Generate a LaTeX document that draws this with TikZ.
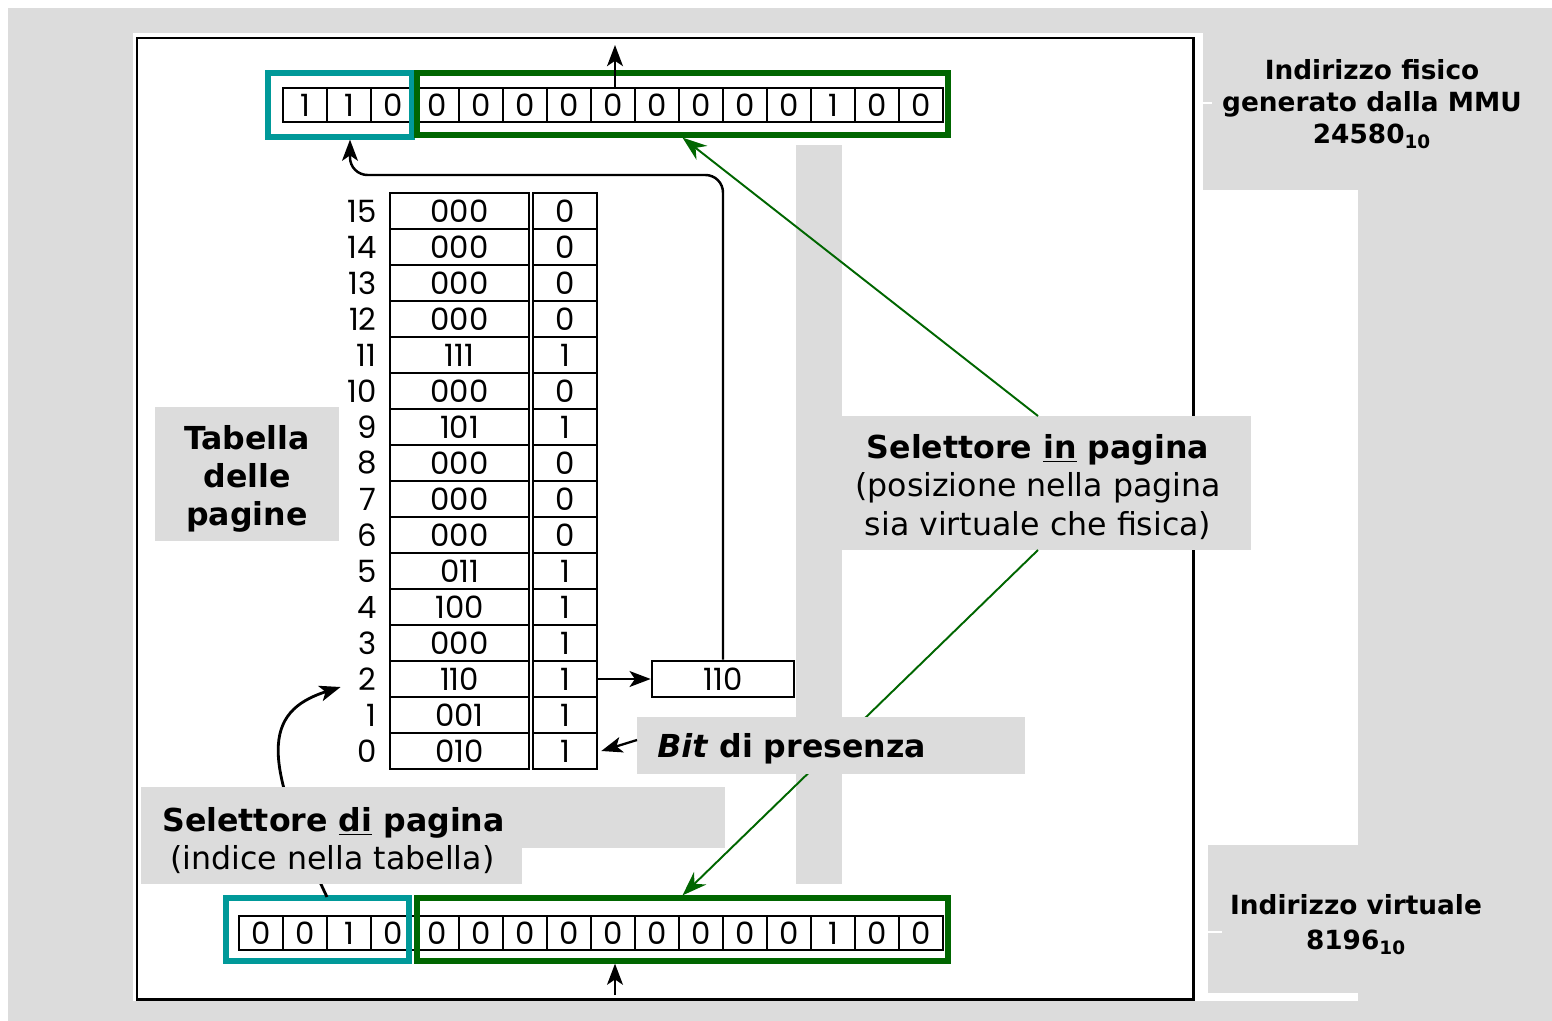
\documentclass[tikz,border=0pt]{standalone}
\usepackage{fontspec}
\setmainfont{DejaVu Sans}
\newfontfamily\cellfont[Numbers=Monospaced]{Poppins}
\usetikzlibrary{arrows.meta,calc}

\definecolor{slidegray}{RGB}{220,220,220}
\definecolor{selcyan}{RGB}{0,153,153}
\definecolor{seldkgreen}{RGB}{0,102,0}

\tikzset{
  bitcell/.style={draw,line width=1.4pt,minimum width=0.88cm,minimum height=0.68cm,inner sep=0pt,font=\cellfont\fontsize{17.5}{17.5}\selectfont},
  ptcell/.style={draw,line width=1.5pt,minimum height=0.72cm,inner sep=0pt,font=\cellfont\fontsize{17.5}{17.5}\selectfont},
  idxlbl/.style={anchor=east,inner sep=0pt,font=\cellfont\fontsize{17.5}{17.5}\selectfont},
  graybox/.style={fill=slidegray,inner sep=0pt},
  selbox/.style={draw,line width=3pt,inner sep=0pt},
  garrow/.style={-{Stealth[length=14pt,width=10pt]},seldkgreen,line width=1.1pt},
  lblfont/.style={font=\fontsize{18}{21.8}\selectfont},
  addrfont/.style={font=\bfseries\fontsize{15}{18.2}\selectfont}
}

\begin{document}
\begin{tikzpicture}[x=0.02cm,y=-0.02cm,>={Stealth[length=12pt,width=9pt,inset=3pt]}]
    \useasboundingbox (0,0) rectangle (1552,1021);
    % slide background
    \fill[white] (0,0) rectangle (1552,1021);
    \fill[slidegray] (8,8) rectangle (1552,1021);
    \fill[white] (133,33) rectangle (1203,1001);
    \fill[white] (1203,190) rectangle (1358,1001);
    \fill[slidegray] (1208,845) rectangle (1358,993);
    \draw[line width=1.7pt] (137,38) rectangle (1193,999);
    \fill[slidegray] (796,145) rectangle (842,884);
    \draw[white,line width=1.5pt] (1195,103) -- (1212,103);
    \draw[white,line width=1.5pt] (1195,932) -- (1222,932);

    % indirizzo fisico / virtuale
    \foreach \b [count=\i from 0] in {1,1,0,0,0,0,0,0,0,0,0,0,1,0,0}
    {
        \node[bitcell] (p\i) at (305+44*\i,105) {\b};
    }
    \foreach \b [count=\i from 0] in {0,0,1,0,0,0,0,0,0,0,0,0,0,1,0,0}
    {
        \node[bitcell] (v\i) at (261+44*\i,933) {\b};
    }
    \node[selbox,draw=selcyan,minimum width=2.88cm,minimum height=1.28cm] (pcyan) at (340,105) {};
    \node[selbox,draw=seldkgreen,minimum width=10.62cm,minimum height=1.24cm] (pgreen) at (682.5,104) {};
    \node[selbox,draw=selcyan,minimum width=3.66cm,minimum height=1.26cm] (vcyan) at (317.5,929.5) {};
    \node[selbox,draw=seldkgreen,minimum width=10.62cm,minimum height=1.26cm] (vgreen) at (682.5,929.5) {};

    % tabella delle pagine
    \foreach \n/\f/\p [count=\k from 0] in {15/000/0,14/000/0,13/000/0,12/000/0,11/111/1,10/000/0,9/101/1,8/000/0,7/000/0,6/000/0,5/011/1,4/100/1,3/000/1,2/110/1,1/001/1,0/010/1}
    {
        \node[ptcell,minimum width=2.78cm] (f\n) at (459.5,211+36*\k) {\f};
        \node[ptcell,minimum width=1.28cm] (b\n) at (565,211+36*\k) {\p};
        \node[idxlbl] (i\n) at (377,211+36*\k) {\n};
    }
    \node[ptcell,minimum width=2.84cm] (frame) at (723,679) {110};

    \draw[->,line width=1.4pt] (b2.east) -- (frame.west);
    \coordinate (bend) at (350,175);
    \draw[->,line width=1.4pt,rounded corners=10] (frame.north) |- (bend) -- (bend |- pcyan.south);
    \coordinate (pout) at (615,45);
    \draw[->,line width=1.4pt] (pout |- p7.north) -- (pout);
    \coordinate (vin) at (615,995);
    \draw[->,line width=1.4pt] (vin) -- (vin |- vgreen.south);
    \coordinate (psel) at (327,897);
    \draw[->,line width=1.6pt] (psel) .. controls (262,760) and (262,712) .. ($(i2.west)+(-18,8)$);

    % etichette
    \fill[slidegray] (155,407) rectangle (339,541);
    \node[lblfont,align=center] (tablbl) at (247,479) {\textbf{Tabella}\\\textbf{delle}\\\textbf{pagine}};
    \fill[slidegray] (842,416) rectangle (1251,550);
    \coordinate (intop) at (1038,416);
    \coordinate (inbot) at (1038,550);
    \node[lblfont,align=center] (inlbl) at (1038,487) {\textbf{Selettore \underline{in} pagina}\\(posizione nella pagina\\sia virtuale che fisica)};
    \draw[garrow] (intop) -- (pgreen.south);
    \draw[garrow] (inbot) -- (vgreen.north);
    \fill[slidegray] (637,717) rectangle (1025,774);
    \coordinate (bitin) at (637,740);
    \node[lblfont,anchor=west,inner sep=0pt] (bitlbl) at (657,749) {\textbf{\textit{Bit} di presenza}};
    \draw[->,line width=1.3pt] (bitin) -- ($(b0.east)+(3,0)$);
    \fill[slidegray] (141,787) rectangle (725,848);
    \fill[slidegray] (141,848) rectangle (522,884);
    \node[lblfont,anchor=base west,inner sep=0pt] (dil1) at (162,831) {\textbf{Selettore \underline{di} pagina}};
    \node[lblfont,anchor=base west,inner sep=0pt] (dil2) at (170,869) {(indice nella tabella)};
    \node[addrfont,align=center] (fislbl) at (1372,104) {Indirizzo fisico\\generato dalla MMU\\24580\textsubscript{10}};
    \node[addrfont,align=center,font=\bfseries\fontsize{15}{20}\selectfont] (virlbl) at (1356,925) {Indirizzo virtuale\\8196\textsubscript{10}};
\end{tikzpicture}
\end{document}
